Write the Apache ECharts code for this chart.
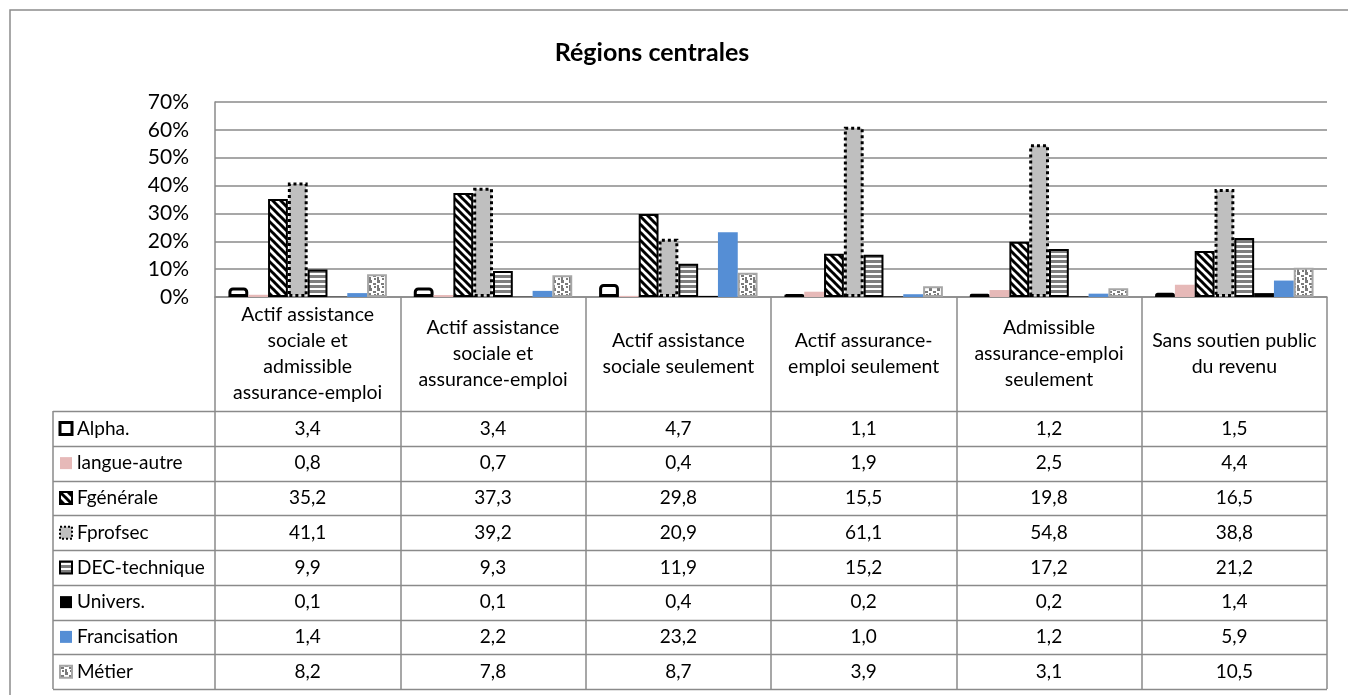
<!DOCTYPE html>
<html>
<head>
<meta charset="utf-8">
<script src="https://cdn.jsdelivr.net/npm/echarts@6/dist/echarts.min.js"></script>
<style>
  html, body { margin: 0; padding: 0; background: #fff; }
  #chart { width: 1348px; height: 695px; }
</style>
</head>
<body>
<div id="chart"></div>
<script>
// categories, as wrapped in the data table header
const categories = [
  'Actif assistance\nsociale et\nadmissible\nassurance-emploi',
  'Actif assistance\nsociale et\nassurance-emploi',
  'Actif assistance\nsociale seulement',
  'Actif assurance-\nemploi seulement',
  'Admissible\nassurance-emploi\nseulement',
  'Sans soutien public\ndu revenu',
]
const seriesNames = ['Alpha.', 'langue-autre', 'Fgénérale', 'Fprofsec', 'DEC-technique', 'Univers.', 'Francisation', 'Métier']

const alpha = [3.4, 3.4, 4.7, 1.1, 1.2, 1.5]
const langueAutre = [0.8, 0.7, 0.4, 1.9, 2.5, 4.4]
const fGenerale = [35.2, 37.3, 29.8, 15.5, 19.8, 16.5]
const fProfsec = [41.1, 39.2, 20.9, 61.1, 54.8, 38.8]
const decTechnique = [9.9, 9.3, 11.9, 15.2, 17.2, 21.2]
const univers = [0.1, 0.1, 0.4, 0.2, 0.2, 1.4]
const francisation = [1.4, 2.2, 23.2, 1.0, 1.2, 5.9]
const metier = [8.2, 7.8, 8.7, 3.9, 3.1, 10.5]

const yTicks = [0, 10, 20, 30, 40, 50, 60, 70]

const seriesValues = [alpha, langueAutre, fGenerale, fProfsec, decTechnique, univers, francisation, metier]

// --- fill patterns (Excel-like hatches)
function pattern(w, h, draw) {
  const c = document.createElement('canvas')
  c.width = w
  c.height = h
  draw(c.getContext('2d'))
  return { image: c, repeat: 'repeat' }
}
const diagFill = pattern(8, 8, (ctx) => {
  ctx.fillStyle = '#fff'
  ctx.fillRect(0, 0, 8, 8)
  ctx.strokeStyle = '#000'
  ctx.lineWidth = 3
  for (const o of [-8, 0, 8]) {
    ctx.beginPath()
    ctx.moveTo(o - 1, -1)
    ctx.lineTo(o + 9, 9)
    ctx.stroke()
  }
})
const stripeFill = pattern(4, 5, (ctx) => {
  ctx.fillStyle = '#fff'
  ctx.fillRect(0, 0, 4, 5)
  ctx.fillStyle = '#7f7f7f'
  ctx.fillRect(0, 0, 4, 3)
})
const dotFill = pattern(8, 8, (ctx) => {
  ctx.fillStyle = '#fff'
  ctx.fillRect(0, 0, 8, 8)
  ctx.fillStyle = '#7a7a7a'
  ctx.fillRect(1, 0, 3, 3)
  ctx.fillRect(5, 3, 3, 2)
  ctx.fillRect(1, 5, 2, 3)
  ctx.fillRect(6, 6, 2, 2)
})

const barStyles = [
  { color: '#fff', borderColor: '#000', borderWidth: 3, borderRadius: [3, 3, 0, 0] },
  { color: '#e6b9b8' },
  { color: diagFill, borderColor: '#000', borderWidth: 2 },
  { color: '#bfbfbf', borderColor: '#000', borderWidth: 3, borderType: [3, 3] },
  { color: stripeFill, borderColor: '#000', borderWidth: 2 },
  { color: '#000' },
  { color: '#558ed5' },
  { color: dotFill, borderColor: '#a6a6a6', borderWidth: 2 },
]
const keyStyles = [
  { fill: '#fff', stroke: '#000', lineWidth: 3 },
  { fill: '#e6b9b8' },
  { fill: diagFill, stroke: '#000', lineWidth: 2 },
  { fill: '#bfbfbf', stroke: '#000', lineWidth: 2, lineDash: [2, 2] },
  { fill: stripeFill, stroke: '#000', lineWidth: 2 },
  { fill: '#000' },
  { fill: '#558ed5' },
  { fill: dotFill, stroke: '#a6a6a6', lineWidth: 2 },
]

// --- layout
const FONT = 'Lato, "Noto Sans", sans-serif'
const plotLeft = 215
const plotRight = 1327
const plotTop = 102
const plotBottom = 297
const tableTop = 411
const tableBottom = 689
const tableLeft = 53
const rowH = (tableBottom - tableTop) / seriesNames.length
const colW = (plotRight - plotLeft) / categories.length
const gridColor = '#8a8a8a'

function fmt(v) {
  return v.toFixed(1).replace('.', ',')
}

function buildTable() {
  const els = []
  // outer chart border
  els.push({
    type: 'rect',
    shape: { x: 10, y: 10, width: 1360, height: 700 },
    style: { fill: 'none', stroke: '#8c8c8c', lineWidth: 1.5 },
    silent: true,
  })
  for (let i = 0; i <= seriesNames.length; i++) {
    const y = Math.round(tableTop + rowH * i) + 0.5
    els.push({
      type: 'line',
      shape: { x1: tableLeft, y1: y, x2: plotRight, y2: y },
      style: { stroke: gridColor, lineWidth: 1.5 },
    })
  }
  els.push({
    type: 'line',
    shape: { x1: tableLeft, y1: tableTop, x2: tableLeft, y2: tableBottom },
    style: { stroke: gridColor, lineWidth: 1.5 },
  })
  seriesNames.forEach((name, i) => {
    const cy = tableTop + rowH * (i + 0.5)
    els.push({
      type: 'rect',
      shape: { x: 60, y: cy - 6, width: 12, height: 12 },
      style: Object.assign({ stroke: null }, keyStyles[i]),
    })
    els.push({
      type: 'text',
      x: 77,
      y: cy,
      style: { text: name, font: '19px ' + FONT, fill: '#000', align: 'left', verticalAlign: 'middle' },
    })
    seriesValues[i].forEach((v, j) => {
      els.push({
        type: 'text',
        x: plotLeft + colW * (j + 0.5),
        y: cy,
        style: { text: fmt(v), font: '19px ' + FONT, fill: '#000', align: 'center', verticalAlign: 'middle' },
      })
    })
  })
  return els
}

const chart = echarts.init(document.getElementById('chart'))
chart.setOption({
  animation: false,
  backgroundColor: '#fff',
  title: {
    text: 'Régions centrales',
    left: 647,
    top: 35,
    textAlign: 'center',
    textStyle: { fontFamily: FONT, fontSize: 25, fontWeight: 'bold', color: '#000' },
  },
  grid: { left: plotLeft, top: plotTop, right: 1348 - plotRight, height: plotBottom - plotTop, containLabel: false },
  xAxis: {
    type: 'category',
    data: categories,
    axisLine: { lineStyle: { color: gridColor, width: 1.5 } },
    axisTick: { show: true, length: tableBottom - plotBottom, lineStyle: { color: gridColor, width: 1.5 } },
    axisLabel: {
      interval: 0,
      margin: (tableTop - plotBottom) / 2,
      verticalAlign: 'middle',
      lineHeight: 26,
      fontSize: 19.5,
      fontFamily: FONT,
      color: '#000',
    },
  },
  yAxis: {
    type: 'value',
    min: yTicks[0],
    max: yTicks[yTicks.length - 1],
    interval: yTicks[1] - yTicks[0],
    axisLine: { show: true, lineStyle: { color: gridColor, width: 1.5 } },
    axisTick: { show: false },
    splitLine: { lineStyle: { color: gridColor, width: 1.5 } },
    axisLabel: { formatter: '{value}%', fontSize: 21, fontFamily: FONT, color: '#000', margin: 26 },
  },
  series: seriesNames.map((name, i) => ({
    name,
    type: 'bar',
    data: seriesValues[i],
    barGap: '0%',
    barCategoryGap: '14.5%',
    itemStyle: barStyles[i],
  })),
  graphic: { elements: buildTable() },
})
</script>
</body>
</html>
